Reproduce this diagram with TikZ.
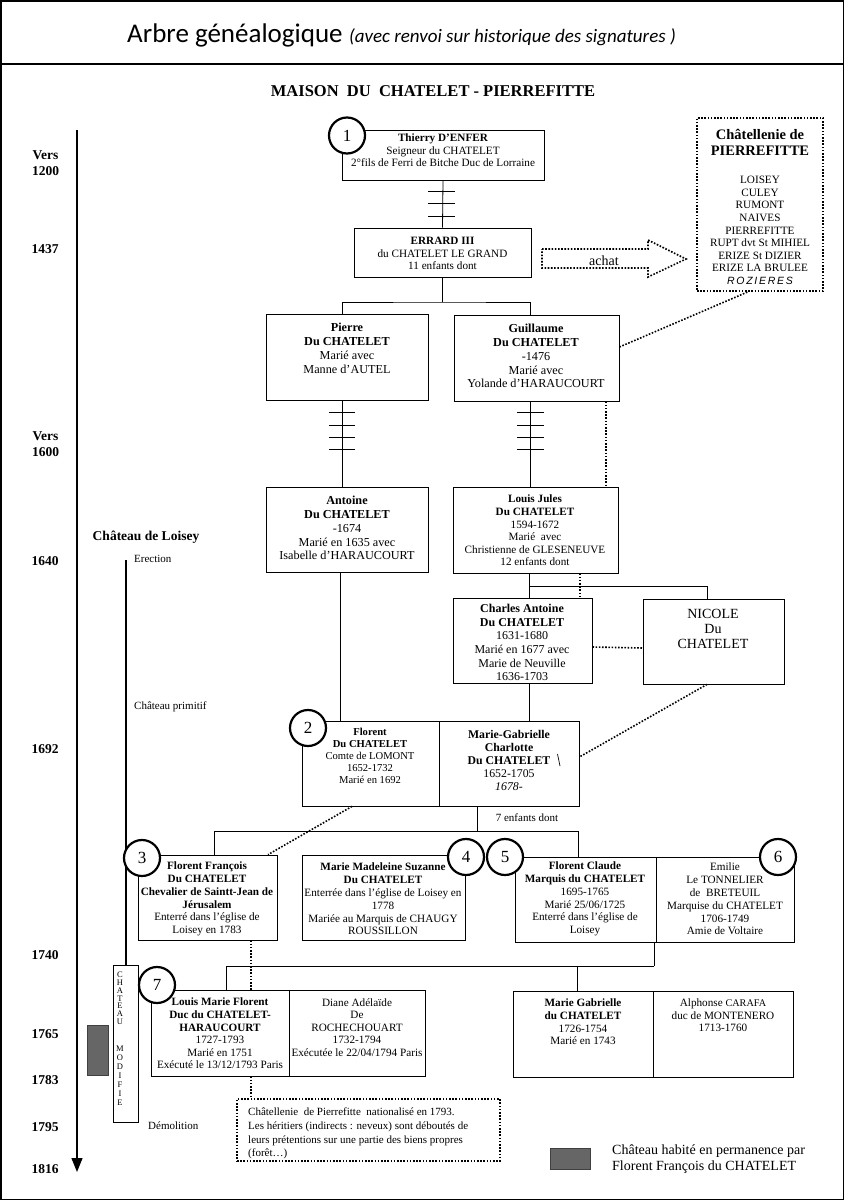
\documentclass[tikz,border=0pt]{standalone}
\usepackage{fontspec}
\setmainfont{Liberation Serif}
\newfontfamily\hdrfont{Carlito}
\newfontfamily\handfont{Liberation Sans}
\usetikzlibrary{arrows.meta,calc}
\newcommand\fsA{\fontsize{11.2}{12.6}\selectfont}
\newcommand\fsB{\fontsize{12.2}{13.9}\selectfont}
\newcommand\fsC{\fontsize{10.6}{12}\selectfont}
\newcommand\fsD{\fontsize{11.8}{13.2}\selectfont}
\newcommand\fsE{\fontsize{11.2}{12.8}\selectfont}
\tikzset{
  box/.style={draw, line width=0.8pt, inner sep=0pt},
  dbox/.style={draw, line width=1.6pt, dash pattern=on 1.6pt off 1.6pt, inner sep=0pt},
  tx/.style={align=center, inner sep=0pt},
  lnk/.style={line width=0.8pt},
  dots/.style={line width=1.6pt, dash pattern=on 1.6pt off 1.6pt},
  numc/.style={circle, draw, line width=2.2pt, fill=white, minimum size=36pt, inner sep=0pt, font=\fontsize{17}{17}\selectfont},
  yr/.style={font=\fontsize{13.5}{16}\selectfont\bfseries, align=center, inner sep=0pt},
  small/.style={font=\fontsize{11}{12}\selectfont, inner sep=0pt},
  vlet/.style={inner sep=0pt, font=\fontsize{8.5}{9}\selectfont},
}
\begin{document}
\begin{tikzpicture}[x=1pt,y=-1pt]
\useasboundingbox (0,0) rectangle (844,1200);
\fill[white] (0,0) rectangle (844,1200);
\draw[line width=1.5pt] (0.75,0.75) rectangle (843.25,1199.25);
\draw[line width=2pt] (0,64) -- (844,64);

% header
\node[anchor=base west, inner sep=0pt] (hdr) at (127,42) {\hdrfont\fontsize{27}{30}\selectfont Arbre généalogique};
\node[anchor=base west, inner sep=0pt] (hdrsub) at ([xshift=6pt]hdr.base east) {\hdrfont\itshape\fontsize{19}{21}\selectfont (avec renvoi sur historique des signatures )};
\node[inner sep=0pt, font=\fontsize{16.5}{18}\selectfont\bfseries] (title) at (433,91) {MAISON\ \ DU\ \ CHATELET - PIERREFITTE};

% timeline
\coordinate (tltop) at (77,130);
\coordinate (tlbot) at (77,1172);
\draw[line width=1.2pt, -{Triangle[length=14pt,width=11pt]}] (tltop) -- (tlbot);
\node[yr] (y1200) at (45.5,163) {Vers\\1200};
\node[yr] (y1437) at (45,249) {1437};
\node[yr] (y1600) at (45.5,444) {Vers\\1600};
\node[yr] (y1640) at (45,561) {1640};
\node[yr] (y1692) at (45,749) {1692};
\node[yr] (y1740) at (45,955) {1740};
\node[yr] (y1765) at (45,1034) {1765};
\node[yr] (y1783) at (45,1080) {1783};
\node[yr] (y1795) at (45,1127) {1795};
\node[yr] (y1816) at (45,1169) {1816};

% chateau de Loisey
\node[inner sep=0pt, font=\fontsize{13.5}{15}\selectfont\bfseries] (loisey) at (146,537) {Château de Loisey};
\node[box, minimum width=25pt, minimum height=157pt] (modif) at (125.5,1043.5) {};
\coordinate (erect) at (126,560);
\draw[line width=1.2pt] (erect) -- (erect |- modif.north);
\node[small, anchor=west] (erection) at (134,559) {Erection};
\node[small, anchor=west] (primitif) at (134,707) {Château primitif};
\node[small, anchor=west] (demol) at (148,1126) {Démolition};
\foreach \l [count=\i] in {C,H,A,T,E,A,U}
  \node[vlet] at (120,967.5+\i*7.7) {\l};
\foreach \l [count=\i] in {M,O,D,I,F,I,E}
  \node[vlet] at (120,1040+\i*9) {\l};
\node[draw=black!75, fill=black!60, minimum width=21pt, minimum height=50pt, inner sep=0pt] (patch1) at (97.5,1050) {};

% legend
\node[draw=black!75, fill=black!60, minimum width=40pt, minimum height=21pt, inner sep=0pt] (legpatch) at (570,1158.5) {};
\node[anchor=west, align=left, inner sep=0pt, font=\fontsize{14}{16.5}\selectfont] (legtxt) at (612,1159) {Château habité en permanence par\\Florent François du CHATELET};

% boxes
\node[box, minimum width=202pt, minimum height=50pt] (thierry) at (443,155) {};
\node[box, minimum width=177pt, minimum height=49pt] (errard) at (442.5,252.5) {};
\node[box, minimum width=162pt, minimum height=86pt] (pierre) at (347,357) {};
\node[box, minimum width=165pt, minimum height=86pt] (guillaume) at (536.5,358) {};
\node[box, minimum width=162pt, minimum height=85pt] (antoine) at (347,529.5) {};
\node[box, minimum width=165pt, minimum height=86pt] (louisj) at (535.5,530) {};
\node[box, minimum width=139pt, minimum height=85pt] (charles) at (522.5,640.5) {};
\node[box, minimum width=141pt, minimum height=85pt] (nicole) at (713.5,641.5) {};
\node[box, minimum width=137pt, minimum height=85pt] (florent) at (370.5,763.5) {};
\node[box, minimum width=140pt, minimum height=85pt] (mg) at (509,763.5) {};
\node[box, minimum width=139pt, minimum height=85pt] (ff) at (207.5,897.5) {};
\node[box, minimum width=163pt, minimum height=85pt] (mm) at (383.5,897.5) {};
\node[box, minimum width=141pt, minimum height=85pt] (fc) at (585.5,899.5) {};
\node[box, minimum width=138pt, minimum height=85pt] (emilie) at (725,899.5) {};
\node[box, minimum width=138pt, minimum height=86pt] (louism) at (220,1033) {};
\node[box, minimum width=136pt, minimum height=86pt] (diane) at (357,1033) {};
\node[box, minimum width=140pt, minimum height=86pt] (mgab) at (583,1034) {};
\node[box, minimum width=140pt, minimum height=86pt] (alph) at (723,1034) {};
\node[dbox, minimum width=126pt, minimum height=173pt] (chatel) at (760,204.5) {};
\node[dbox, minimum width=263pt, minimum height=62pt] (note) at (368.5,1130) {};

% texts
\node[tx, font=\fsA] (thierryT) at (443,150.5) {\textbf{Thierry D’ENFER}\\Seigneur du CHATELET\\2°fils de Ferri de Bitche Duc de Lorraine};
\node[tx, font=\fsA] (errardT) at (442.5,253.5) {\textbf{ERRARD III}\\du CHATELET LE GRAND\\11 enfants dont};
\node[tx, font=\fsB] (pierreT) at (347,348) {\textbf{Pierre}\\\textbf{Du CHATELET}\\Marié avec\\Manne d’AUTEL};
\node[tx, font=\fsB] (guillT) at (536,356) {\textbf{Guillaume}\\\textbf{Du CHATELET}\\-1476\\Marié avec\\Yolande d’HARAUCOURT};
\node[tx, font=\fsB] (antoineT) at (347,528) {\textbf{Antoine}\\\textbf{Du CHATELET}\\-1674\\Marié en 1635 avec\\Isabelle d’HARAUCOURT};
\node[tx, font=\fsA] (louisjT) at (535,530.5) {\textbf{Louis Jules}\\\textbf{Du CHATELET}\\1594-1672\\Marié\ \ avec\\Christienne de GLESENEUVE\\12 enfants dont};
\node[tx, font=\fontsize{12}{13.6}\selectfont] (charlesT) at (522,642.5) {\textbf{Charles Antoine}\\\textbf{Du CHATELET}\\1631-1680\\Marié en 1677 avec\\Marie de Neuville\\1636-1703};
\node[tx, font=\fontsize{14}{15.2}\selectfont] (nicoleT) at (713,629) {NICOLE\\Du\\CHATELET};
\node[tx, font=\fsC] (florentT) at (370,756) {\textbf{Florent}\\\textbf{Du CHATELET}\\Comte de LOMONT\\1652-1732\\Marié en 1692};
\node[tx, font=\fsD] (mgT) at (509,760.5) {\textbf{Marie-Gabrielle}\\\textbf{Charlotte}\\\textbf{Du CHATELET}\\1652-1705\\{\itshape 1678-}};
\draw[line width=0.7pt] (557.5,754) -- (560,766);
\node[tx, font=\fsE] (ffT) at (207,899) {\textbf{Florent François}\\\textbf{Du CHATELET}\\\textbf{Chevalier de Saintt-Jean de}\\\textbf{Jérusalem}\\Enterré dans l’église de\\Loisey en 1783};
\node[tx, font=\fsE] (mmT) at (383,899) {\textbf{Marie Madeleine Suzanne}\\\textbf{Du CHATELET}\\Enterrée dans l’église de Loisey en\\1778\\Mariée au Marquis de CHAUGY\\ROUSSILLON};
\node[tx, font=\fsE] (fcT) at (585,899) {\textbf{Florent Claude}\\\textbf{Marquis du CHATELET}\\1695-1765\\Marié 25/06/1725\\Enterré dans l’église de\\Loisey};
\node[tx, font=\fsE] (emilieT) at (725,899) {Emilie\\Le TONNELIER\\de\ \ BRETEUIL\\Marquise du CHATELET\\1706-1749\\Amie de Voltaire};
\node[tx, font=\fsA] (louismT) at (220,1033.5) {\textbf{Louis Marie Florent}\\\textbf{Duc du CHATELET-}\\\textbf{HARAUCOURT}\\1727-1793\\Marié en 1751\\Exécuté le 13/12/1793 Paris};
\node[tx, font=\fsA] (dianeT) at (357,1027.5) {Diane Adélaïde\\De\\ROCHECHOUART\\1732-1794\\Exécutée le 22/04/1794 Paris};
\node[tx, font=\fsA] (mgabT) at (583,1022) {\textbf{Marie Gabrielle}\\\textbf{du CHATELET}\\1726-1754\\Marié en 1743};
\node[tx, font=\fsA] (alphT) at (723,1015.5) {Alphonse {\fontsize{10.2}{12}\selectfont CARAFA}\\duc de MONTENERO\\1713-1760};
\node[tx, font=\fontsize{14.5}{16}\selectfont\bfseries] (chatelT) at (760,142) {Châtellenie de\\PIERREFITTE};
\node[tx, font=\fsA] (chatelL) at (760,230.5) {LOISEY\\CULEY\\RUMONT\\NAIVES\\PIERREFITTE\\RUPT dvt St MIHIEL\\ERIZE St DIZIER\\ERIZE LA BRULEE\\{\handfont\itshape\fontsize{10.5}{12}\selectfont R\,O\,Z\,I\,E\,R\,E\,S}};
\node[anchor=west, align=left, inner sep=0pt, font=\fontsize{11}{13.7}\selectfont] (noteT) at (248,1133.5) {Châtellenie\ \ de Pierrefitte\ \ nationalisé en 1793.\\Les héritiers (indirects : neveux) sont déboutés de\\leurs prétentions sur une partie des biens propres\\(forêt…)};

% achat arrow
\coordinate (aS) at (542,249);
\draw[dots] (aS) -- (648,249) -- (648,240) -- (686,259) -- (648,277) -- (648,268) -- (542,268) -- cycle;
\node[inner sep=0pt, font=\fontsize{14}{16}\selectfont] (achat) at (604,261) {achat};

% lanes
\coordinate (lP) at (342,0);
\coordinate (lG) at (530,0);
\coordinate (lD1) at (606,0);
\coordinate (lA) at (340,0);
\coordinate (lL) at (529,0);
\coordinate (lLd) at (580,0);
\coordinate (lN) at (707,0);
\coordinate (l477) at (477,0);
\coordinate (l214) at (214,0);
\coordinate (l578) at (578,0);
\coordinate (l352) at (352,0);
\coordinate (l268) at (268,0);
\coordinate (l251) at (251,0);
\coordinate (l654) at (654,0);
\coordinate (l226) at (226,0);
\coordinate (l577) at (577,0);
\coordinate (yE) at (442.5,302);
\coordinate (yLJ) at (529,586);
\coordinate (y7) at (477,831);
\coordinate (y66) at (654,966);

% connectors
\draw[lnk] (thierry.south) -- (errard.north);
\foreach \t in {191,203,216} \draw[lnk] (428,\t) -- (455,\t);
\draw[lnk] (errard.south) -- (yE);
\draw[lnk] (lP |- pierre.north) |- (yE) -| (lG |- guillaume.north);
\draw[lnk] (lP |- pierre.south) -- (lP |- antoine.north);
\foreach \t in {412,425,437,449} \draw[lnk] (329,\t) -- (355,\t);
\draw[lnk] (lG |- guillaume.south) -- (lG |- louisj.north);
\foreach \t in {412,425,437,449} \draw[lnk] (517,\t) -- (544,\t);
\draw[dots] (lD1 |- guillaume.south) -- (lD1 |- louisj.north);
\draw[dots] ([yshift=11pt]guillaume.east) -- ([xshift=-12pt]chatel.south);
\draw[lnk] (lA |- antoine.south) -- (lA |- florent.north);
\draw[lnk] (lL |- louisj.south) -- (lL |- charles.north);
\draw[lnk] (yLJ) -| (lN |- nicole.north);
\draw[dots] (lLd |- louisj.south) -- (lLd |- charles.north);
\draw[dots] ([yshift=-6.5pt]charles.east) -- ([yshift=-6.5pt]nicole.west);
\draw[lnk] (lL |- charles.south) -- (lL |- mg.north);
\draw[dots] (lN |- nicole.south) -- ([yshift=6.5pt]mg.east);
\draw[lnk] (l477 |- mg.south) -- (y7);
\draw[lnk] (l214 |- ff.north) |- (y7) -| (l578 |- fc.north);
\node[inner sep=0pt, font=\fontsize{11}{12}\selectfont] (sept) at (527,818) {7 enfants dont};
\draw[dots] (l352 |- florent.south) -- (l268 |- ff.north);
\draw[dots] (l251 |- ff.south) -- (l251 |- louism.north);
\draw[dots] (l251 |- louism.south) -- (l251 |- note.north);
\draw[lnk] (l654 |- fc.south) -- (y66);
\draw[lnk] (l226 |- louism.north) |- (y66);
\draw[lnk] (l577 |- y66) -- (l577 |- mgab.north);

% number circles
\node[numc] (c1) at (347,135.5) {1};
\node[numc] (c2) at (308,728) {2};
\node[numc] (c3) at (142,858) {3};
\node[numc] (c4) at (466,857) {4};
\node[numc] (c5) at (505,857) {5};
\node[numc] (c6) at (778,857) {6};
\node[numc] (c7) at (157,985) {7};
\end{tikzpicture}
\end{document}
